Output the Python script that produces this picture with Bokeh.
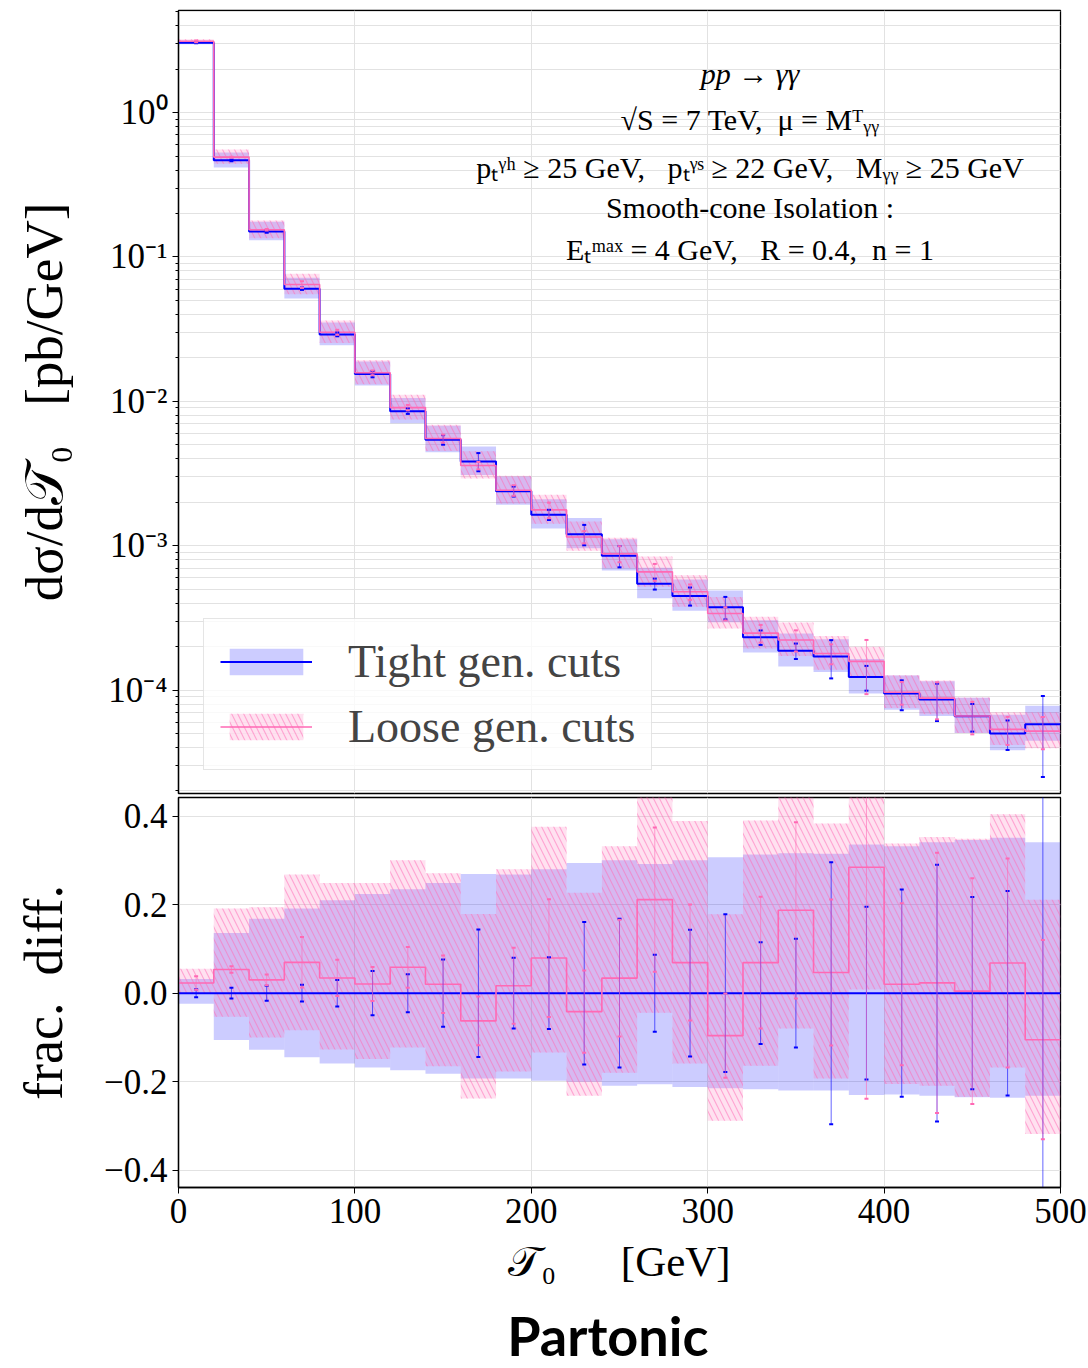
import numpy as np
from bokeh.plotting import figure
from bokeh.layouts import column
from bokeh.models import (ColumnDataSource, FixedTicker, Range1d, Legend, LegendItem,
                          Label, CustomJSTickFormatter)
from bokeh.embed import file_html
from bokeh.resources import INLINE

# ---------------- data ----------------
bin_edges = [0, 20, 40, 60, 80, 100, 120, 140, 160, 180, 200, 220, 240, 260,
             280, 300, 320, 340, 360, 380, 400, 420, 440, 460, 480, 500]

# central values [pb/GeV]
tight_xsec = [3.05, 0.467, 0.150, 0.0603, 0.0291, 0.01545, 0.00855, 0.00542, 0.00383,
              0.00238, 0.00164, 0.00120, 0.000851, 0.000544, 0.000449, 0.000375,
              0.000232, 0.000187, 0.000171, 0.000123, 0.0000946, 0.0000859,
              0.0000658, 0.0000500, 0.0000580]
loose_xsec = [3.12, 0.492, 0.1545, 0.0645, 0.0301, 0.01577, 0.00905, 0.00553, 0.00359,
              0.00242, 0.00177, 0.00115, 0.000880, 0.000659, 0.000480, 0.000339,
              0.000248, 0.000222, 0.000179, 0.000158, 0.0000965, 0.0000879,
              0.0000661, 0.0000534, 0.0000519]

# scale-variation bands, fractional w.r.t. tight central value
tight_band_lo = [-0.024, -0.106, -0.128, -0.145, -0.159, -0.168, -0.174, -0.182, -0.193,
                 -0.193, -0.198, -0.200, -0.209, -0.206, -0.212, -0.215, -0.217, -0.220,
                 -0.220, -0.230, -0.229, -0.232, -0.235, -0.236, -0.232]
tight_band_hi = [0.032, 0.136, 0.168, 0.191, 0.210, 0.224, 0.235, 0.249, 0.269, 0.268,
                 0.280, 0.294, 0.300, 0.292, 0.300, 0.307, 0.313, 0.316, 0.315, 0.336,
                 0.332, 0.341, 0.346, 0.351, 0.341]
loose_band_lo = [0.000, -0.053, -0.100, -0.084, -0.127, -0.149, -0.123, -0.165, -0.238,
                 -0.177, -0.134, -0.232, -0.180, -0.044, -0.159, -0.288, -0.164, -0.080,
                 -0.193, 0.008, -0.205, -0.209, -0.234, -0.168, -0.318]
loose_band_hi = [0.055, 0.191, 0.194, 0.268, 0.249, 0.249, 0.300, 0.271, 0.179, 0.280,
                 0.376, 0.227, 0.332, 0.55, 0.389, 0.178, 0.390, 0.57, 0.383, 0.62,
                 0.338, 0.353, 0.349, 0.404, 0.211]

# statistical errors, fractional w.r.t. tight central value
tight_err = [0.009, 0.012, 0.017, 0.019, 0.030, 0.050, 0.043, 0.076, 0.144, 0.080,
             0.081, 0.161, 0.168, 0.087, 0.143, 0.178, 0.115, 0.123, 0.296, 0.195,
             0.234, 0.290, 0.217, 0.231, 0.570]
loose_err = [0.015, 0.0075, 0.012, 0.057, 0.041, 0.0385, 0.046, 0.065, 0.055, 0.086,
             0.133, 0.093, 0.132, 0.163, 0.131, 0.095, 0.149, 0.199, 0.165, 0.523,
             0.183, 0.294, 0.255, 0.236, 0.225]

y_major_ticks = [1e-4, 1e-3, 1e-2, 1e-1, 1.0]
y_minor_ticks = [k * 10.0 ** n for n in range(-5, 1) for k in range(2, 10)]
x_ticks = [0, 100, 200, 300, 400, 500]
frac_ticks = [-0.4, -0.2, 0.0, 0.2, 0.4]

# ---------------- derived ----------------
edges = np.array(bin_edges, dtype=float)
left, right = edges[:-1], edges[1:]
centers = 0.5 * (left + right)
T = np.array(tight_xsec)
L = np.array(loose_xsec)
frac = L / T - 1.0
tbl, tbh = np.array(tight_band_lo), np.array(tight_band_hi)
lbl, lbh = np.array(loose_band_lo), np.array(loose_band_hi)
te, le = np.array(tight_err), np.array(loose_err)

SERIF = "Liberation Serif"
BLUE = "#0000ff"
PINK = "#ff69b4"
GRID = "#e2e2e2"
NB = "\u00a0"


def style_common(p):
    p.outline_line_color = "black"
    p.outline_line_width = 1.3
    p.background_fill_color = "white"
    p.border_fill_color = "white"
    for ax in p.axis:
        ax.axis_line_color = "black"
        ax.axis_line_width = 1.3
        ax.major_tick_line_color = "black"
        ax.major_tick_out = 6
        ax.major_tick_in = 0
        ax.minor_tick_out = 3
        ax.minor_tick_in = 0
        ax.major_label_text_font = SERIF
        ax.major_label_text_font_size = "35px"
        ax.major_label_text_color = "black"
        ax.axis_label_text_font = SERIF
        ax.axis_label_text_font_style = "normal"
        ax.axis_label_text_color = "black"
    p.grid.grid_line_color = GRID
    p.grid.grid_line_width = 1


def draw(p, lo_t, hi_t, lo_l, hi_l, c_t, c_l, et_lo, et_hi, el_lo, el_hi):
    src = ColumnDataSource(dict(left=left, right=right, tlo=lo_t, thi=hi_t, llo=lo_l, lhi=hi_l))
    tb = p.quad(left="left", right="right", bottom="tlo", top="thi", source=src,
                fill_color=BLUE, fill_alpha=0.2, line_color=None)
    lb = p.quad(left="left", right="right", bottom="llo", top="lhi", source=src,
                fill_color=PINK, fill_alpha=0.2, line_color=None,
                hatch_pattern="\\", hatch_color=PINK, hatch_alpha=0.5,
                hatch_scale=12, hatch_weight=1.2)
    sx = list(edges)
    tl = p.step(x=sx, y=list(c_t) + [c_t[-1]], mode="after", line_color=BLUE, line_width=2)
    ll = p.step(x=sx, y=list(c_l) + [c_l[-1]], mode="after", line_color=PINK, line_width=1.6)
    p.segment(x0=centers, y0=et_lo, x1=centers, y1=et_hi, line_color=BLUE, line_alpha=0.6, line_width=1)
    p.scatter(x=np.r_[centers, centers], y=np.r_[et_lo, et_hi], marker="dash", size=4,
              line_color=BLUE, line_width=2)
    p.segment(x0=centers, y0=el_lo, x1=centers, y1=el_hi, line_color=PINK, line_alpha=0.6, line_width=1)
    p.scatter(x=np.r_[centers, centers], y=np.r_[el_lo, el_hi], marker="dash", size=4,
              line_color=PINK, line_width=2)
    return tb, lb, tl, ll


# ---------------- top panel ----------------
top = figure(width=1088, height=795, y_axis_type="log",
             x_range=Range1d(0, 500), y_range=Range1d(1.92e-5, 5.1),
             output_backend="svg", toolbar_location=None,
             min_border_left=178, min_border_right=28, min_border_top=10, min_border_bottom=2)
style_common(top)
top.xaxis.visible = False
top.xaxis.ticker = FixedTicker(ticks=x_ticks)
top.yaxis.ticker = FixedTicker(ticks=y_major_ticks, minor_ticks=y_minor_ticks)
top.yaxis.formatter = CustomJSTickFormatter(code="""
const e = Math.round(Math.log10(tick));
const sup = {'-':'\u207b','0':'\u2070','1':'\u00b9','2':'\u00b2','3':'\u00b3','4':'\u2074','5':'\u2075'};
return '10' + String(e).split('').map(c => sup[c]).join('');
""")
top.yaxis.axis_label = "dσ/d𝒯₀" + NB + NB + " [pb/GeV]"
top.yaxis.axis_label_text_font_size = "53px"
top.yaxis.axis_label_standoff = 32
top.ygrid.minor_grid_line_color = GRID
top.ygrid.minor_grid_line_width = 1

tb, lb, tl, ll = draw(top, T * (1 + tbl), T * (1 + tbh), T * (1 + lbl), T * (1 + lbh), T, L,
                      T * (1 - te), T * (1 + te), L - T * le, L + T * le)

legend = Legend(items=[LegendItem(label="Tight gen. cuts", renderers=[tb, tl]),
                       LegendItem(label="Loose gen. cuts", renderers=[lb, ll])],
                location=(25, 23), margin=0, padding=16, spacing=12,
                glyph_width=92, glyph_height=33, label_height=33, label_standoff=36,
                label_text_font=SERIF, label_text_font_size="46px",
                border_line_color="#cccccc", border_line_width=1,
                background_fill_color="white", background_fill_alpha=0.8)
top.add_layout(legend)

ann_x = 324
ann_lines = [
    ("pp → γγ", 1.872, "italic"),
    ("√S = 7 TeV," + NB + " μ = Mᵀᵧᵧ", 0.89, "normal"),
    ("pₜᵞʰ ≥ 25 GeV," + NB + NB + " pₜᵞˢ ≥ 22 GeV," + NB + NB + " Mᵧᵧ ≥ 25 GeV", 0.42, "normal"),
    ("Smooth-cone Isolation :", 0.2185, "normal"),
    ("Eₜᵐᵃˣ = 4 GeV," + NB + NB + " R = 0.4," + NB + " n = 1", 0.113, "normal"),
]
for txt, yy, st in ann_lines:
    top.add_layout(Label(x=ann_x, y=yy, text=txt, text_align="center", text_baseline="middle",
                         text_font=SERIF, text_font_size="30px", text_font_style=st,
                         text_color="black"))

# ---------------- bottom panel ----------------
bot = figure(width=1088, height=507,
             x_range=Range1d(0, 500), y_range=Range1d(-0.439, 0.442),
             output_backend="svg", toolbar_location=None,
             min_border_left=178, min_border_right=28, min_border_top=2, min_border_bottom=115)
style_common(bot)
bot.xaxis.ticker = FixedTicker(ticks=x_ticks)
bot.yaxis.ticker = FixedTicker(ticks=frac_ticks)
bot.yaxis.formatter = CustomJSTickFormatter(
    code="return (tick < -1e-9 ? '\u2212' : '') + Math.abs(tick).toFixed(1);")
bot.yaxis.axis_label = "frac." + NB + " diff."
bot.yaxis.axis_label_text_font_size = "54px"
bot.yaxis.axis_label_standoff = 27
bot.xaxis.axis_label = "𝒯₀" + NB * 5 + " [GeV]"
bot.xaxis.axis_label_text_font_size = "43px"
bot.xaxis.axis_label_standoff = 12
bot.xaxis.major_label_standoff = 5

zero = np.zeros_like(T)
draw(bot, tbl, tbh, lbl, lbh, zero, frac, -te, te, frac - le, frac + le)

# ---------------- caption strip ----------------
cap = figure(width=1088, height=66, x_range=Range1d(0, 500), y_range=Range1d(0, 66),
             x_axis_location=None, y_axis_location=None,
             output_backend="svg", toolbar_location=None,
             min_border_left=178, min_border_right=28, min_border_top=0, min_border_bottom=0)
cap.outline_line_color = None
cap.grid.visible = False
cap.background_fill_color = "white"
cap.border_fill_color = "white"
cap.add_layout(Label(x=243.4, y=33, text="Partonic", text_align="center",
                     text_baseline="middle", text_font="Lato", text_font_style="bold",
                     text_font_size="54px", text_color="black"))

layout = column(top, bot, cap, spacing=0)
open("out.html", "w").write(file_html(layout, INLINE))
